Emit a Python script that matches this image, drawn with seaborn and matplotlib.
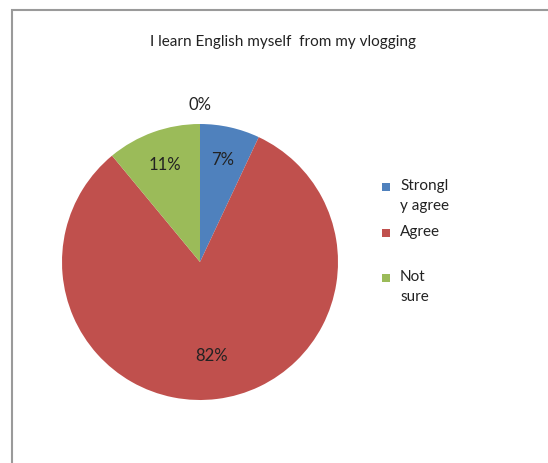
import matplotlib
matplotlib.use("Agg")
import matplotlib.pyplot as plt
from matplotlib.patches import Rectangle
import numpy as np
import seaborn as sns

TITLE = "I learn English myself  from my vlogging"
CATEGORIES = ["Strongly agree", "Agree", "Not sure", "Disagree"]
LEGEND_LABELS = ["Strongl\ny agree", "Agree", "Not\nsure"]
PERCENTS = [7, 82, 11, 0]
COLORS = ["#4F81BD", "#C0504D", "#9BBB59", "#8064A2"]

sns.set_theme(style="white")
plt.rcParams["font.family"] = ["Lato", "DejaVu Sans"]

W, H = 548, 463
fig = plt.figure(figsize=(W / 100, H / 100), dpi=100)

# chart-area frame (only left and top edges are visible)
fig.patches.append(Rectangle((12 / W, -0.05), 1.2, 1 - 10 / H + 0.05,
                             transform=fig.transFigure, fill=False,
                             edgecolor="#9a9a9a", linewidth=1.5))

fig.text(283 / W, 1 - 42 / H, TITLE, ha="center", va="center", fontsize=11, color="#222222")

size = 345
ax = fig.add_axes([(200 - size / 2) / W, (H - 262 - size / 2) / H, size / W, size / H])
wedges, texts = ax.pie(PERCENTS, colors=COLORS, startangle=90, counterclock=False,
                       radius=1.0, wedgeprops=dict(linewidth=0))
ax.set_aspect("equal")
ax.set_xlim(-1.25, 1.25)
ax.set_ylim(-1.25, 1.25)
ax.axis("off")

# percentage labels
cum = np.cumsum([0] + PERCENTS)
dists = [0.76, 0.69, 0.75, 1.14]
for i, p in enumerate(PERCENTS):
    mid = 90 - 3.6 * (cum[i] + p / 2)
    r = dists[i]
    ax.text(r * np.cos(np.radians(mid)), r * np.sin(np.radians(mid)), f"{p}%",
            ha="center", va="center", fontsize=12, color="#222222")

# legend, square aligned with the first text line like Excel does
legend_y = [187, 233, 278]
for wedge, label, y in zip(wedges[:3], LEGEND_LABELS, legend_y):
    fig.patches.append(Rectangle((382 / W, 1 - (y + 4) / H), 8 / W, 8 / H,
                                 transform=fig.transFigure,
                                 facecolor=wedge.get_facecolor(), edgecolor="none"))
    fig.text(400 / W, 1 - (y - 8) / H, label, ha="left", va="top",
             fontsize=11, color="#222222", linespacing=1.55)

fig.savefig("out.png", dpi=100)
